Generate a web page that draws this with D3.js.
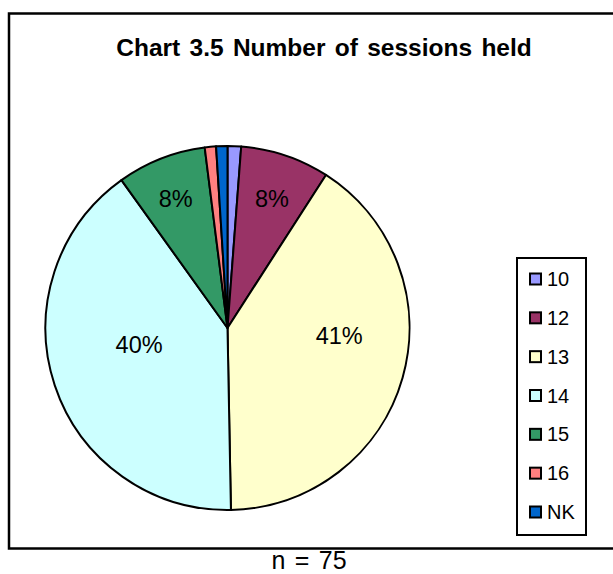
<!DOCTYPE html>
<html>
<head>
<meta charset="utf-8">
<script src="https://cdn.jsdelivr.net/npm/d3@7/dist/d3.min.js"></script>
<style>
  html, body { margin: 0; padding: 0; background: #fff; }
  svg { display: block; font-family: "Liberation Sans", Arial, sans-serif; }
</style>
</head>
<body>
<svg id="chart" width="613" height="574"></svg>
<script>
// ---- data ----
const title = "Chart 3.5 Number of sessions held";
const note = "n = 75";
const categories = ["10", "12", "13", "14", "15", "16", "NK"];
const shares = [1.2, 7.9, 40.6, 40.4, 7.9, 1.0, 1.0]; // percent of respondents
const colors = ["#9999FF", "#993366", "#FFFFCC", "#CCFFFF", "#339966", "#FF8080", "#0066CC"];
const labelled = ["12", "13", "14", "15"];

// ---- drawing ----
const svg = d3.select("#chart");

// outer frame (clipped at the right edge like the original)
svg.append("rect")
  .attr("x", 9).attr("y", 13.5).attr("width", 620).attr("height", 535)
  .attr("fill", "#fff").attr("stroke", "#000").attr("stroke-width", 2.5);

svg.append("text")
  .attr("x", 324).attr("y", 56)
  .attr("text-anchor", "middle")
  .attr("font-weight", "bold")
  .attr("font-size", 24.5)
  .attr("word-spacing", 2.5)
  .text(title);

const cx = 227.5, cy = 328, R = 182;
const g = svg.append("g").attr("transform", `translate(${cx},${cy})`);

const total = d3.sum(shares);
const pie = d3.pie().sort(null).value(d => d.v)
  .startAngle(0).endAngle(2 * Math.PI);
const data = categories.map((c, i) => ({ c, v: shares[i], col: colors[i] }));
const arcs = pie(data);
const arc = d3.arc().innerRadius(0).outerRadius(R);

g.selectAll("path.slice")
  .data(arcs)
  .join("path")
  .attr("class", "slice")
  .attr("d", arc)
  .attr("fill", d => d.data.col)
  .attr("stroke", "#000")
  .attr("stroke-width", 2)
  .attr("stroke-linejoin", "round");

// label placement (best-fit style, relative to slice middle)
const labelLayout = {
  "12": { r: 136, da: 0.5 },
  "13": { r: 112, da: -12 },
  "14": { r: 90, da: 7.5 },
  "15": { r: 139, da: -0.5 }
};
const fmt = v => Math.round(v / total * 100) + "%";
g.selectAll("text.pct")
  .data(arcs.filter(d => labelled.includes(d.data.c)))
  .join("text")
  .attr("class", "pct")
  .attr("text-anchor", "middle")
  .attr("font-size", 23.5)
  .attr("x", d => {
    const L = labelLayout[d.data.c];
    const a = (d.startAngle + d.endAngle) / 2 + L.da * Math.PI / 180;
    return L.r * Math.sin(a);
  })
  .attr("y", d => {
    const L = labelLayout[d.data.c];
    const a = (d.startAngle + d.endAngle) / 2 + L.da * Math.PI / 180;
    return -L.r * Math.cos(a) + 8;
  })
  .text(d => fmt(d.data.v));

// legend
const lx = 517, ly = 258, lw = 69, lh = 277;
svg.append("rect")
  .attr("x", lx).attr("y", ly).attr("width", lw).attr("height", lh)
  .attr("fill", "#fff").attr("stroke", "#000").attr("stroke-width", 2);

const rowY = d3.scalePoint().domain(categories).range([279, 512]);
const items = svg.selectAll("g.leg")
  .data(data)
  .join("g")
  .attr("class", "leg")
  .attr("transform", d => `translate(${lx}, ${rowY(d.c)})`);
items.append("rect")
  .attr("x", 13).attr("y", -5.5).attr("width", 11).attr("height", 11)
  .attr("fill", d => d.col).attr("stroke", "#000").attr("stroke-width", 2);
items.append("text")
  .attr("x", 30).attr("y", 7)
  .attr("font-size", 20)
  .text(d => d.c);

svg.append("text")
  .attr("x", 309).attr("y", 569)
  .attr("text-anchor", "middle")
  .attr("font-size", 25)
  .attr("word-spacing", 2.5)
  .text(note);
</script>
</body>
</html>
